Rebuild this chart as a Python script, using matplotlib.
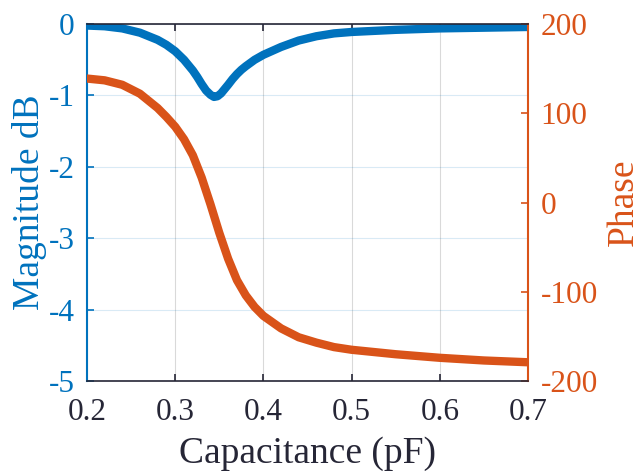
import matplotlib
matplotlib.use("Agg")
import matplotlib.pyplot as plt
import numpy as np

plt.rcParams['font.family'] = ['Liberation Serif', 'DejaVu Serif']
plt.rcParams['axes.unicode_minus'] = False

# magnitude curve (dB)
cap_mag = [0.20, 0.22, 0.24, 0.26, 0.28, 0.29, 0.30, 0.31, 0.32, 0.325, 0.33, 0.335, 0.34,
           0.344, 0.348, 0.352, 0.356, 0.36, 0.365, 0.37, 0.375, 0.38, 0.39, 0.40, 0.42,
           0.44, 0.46, 0.48, 0.50, 0.55, 0.60, 0.65, 0.70]
mag_db = [-0.02, -0.03, -0.06, -0.12, -0.22, -0.29, -0.38, -0.50, -0.65, -0.74, -0.84, -0.93, -0.99,
          -1.02, -1.01, -0.97, -0.91, -0.85, -0.77, -0.70, -0.64, -0.59, -0.50, -0.43, -0.32,
          -0.23, -0.17, -0.13, -0.11, -0.08, -0.06, -0.05, -0.04]

# phase curve (deg)
cap_ph = [0.20, 0.22, 0.24, 0.26, 0.28, 0.29, 0.30, 0.31, 0.32, 0.33, 0.34, 0.35, 0.36,
          0.37, 0.38, 0.39, 0.40, 0.42, 0.44, 0.46, 0.48, 0.50, 0.55, 0.60, 0.65, 0.70]
phase = [139, 137, 132, 122, 106, 96, 85, 71, 53, 28, -2, -34, -63,
         -87, -104, -117, -127, -141, -151, -157, -162, -165, -170, -174, -177, -179]

blue = '#0072BD'
orange = '#D95319'
dark = '#262636'

fig = plt.figure(figsize=(6.42, 4.73), dpi=100)
ax = fig.add_axes([0.1355, 0.1945, 0.687, 0.7545])
ax2 = ax.twinx()

ax.plot(cap_mag, mag_db, color=blue, lw=6, solid_capstyle='round',
        solid_joinstyle='round', zorder=3)
ax2.plot(cap_ph, phase, color=orange, lw=6, solid_capstyle='round',
         solid_joinstyle='round', zorder=3)

ax.set_xlim(0.2, 0.7)
ax.set_ylim(-5, 0)
ax2.set_ylim(-200, 200)
ax.set_xticks([0.2, 0.3, 0.4, 0.5, 0.6, 0.7])
ax.set_yticks([0, -1, -2, -3, -4, -5])
ax2.set_yticks([200, 100, 0, -100, -200])

# grid: vertical grey, horizontal light blue
ax.xaxis.grid(True, color='#000000', alpha=0.15, lw=0.8)
ax.yaxis.grid(True, color=blue, alpha=0.15, lw=0.8)
ax.set_axisbelow(True)

fs = 22.5
ax.tick_params(axis='x', direction='in', length=5, width=1.2, colors=dark, labelsize=fs,
               top=True, pad=12)
ax.tick_params(axis='y', direction='in', length=5, width=1.2, colors=blue, labelsize=fs, pad=9)
ax2.tick_params(axis='y', direction='in', length=5, width=1.2, colors=orange, labelsize=fs, pad=9)

for sp in ['top', 'bottom']:
    ax2.spines[sp].set_color(dark)
    ax2.spines[sp].set_linewidth(1.2)
ax2.spines['left'].set_color(blue)
ax2.spines['left'].set_linewidth(1.5)
ax2.spines['right'].set_color(orange)
ax2.spines['right'].set_linewidth(1.5)
for sp in ax.spines.values():
    sp.set_visible(False)

ax.set_xlabel('Capacitance (pF)', fontsize=27, color=dark, labelpad=7)
ax.set_ylabel('Magnitude dB', fontsize=27, color=blue, labelpad=1)
ax2.set_ylabel('Phase', fontsize=27, color=orange, labelpad=6)

fig.savefig('out.png', dpi=100)
